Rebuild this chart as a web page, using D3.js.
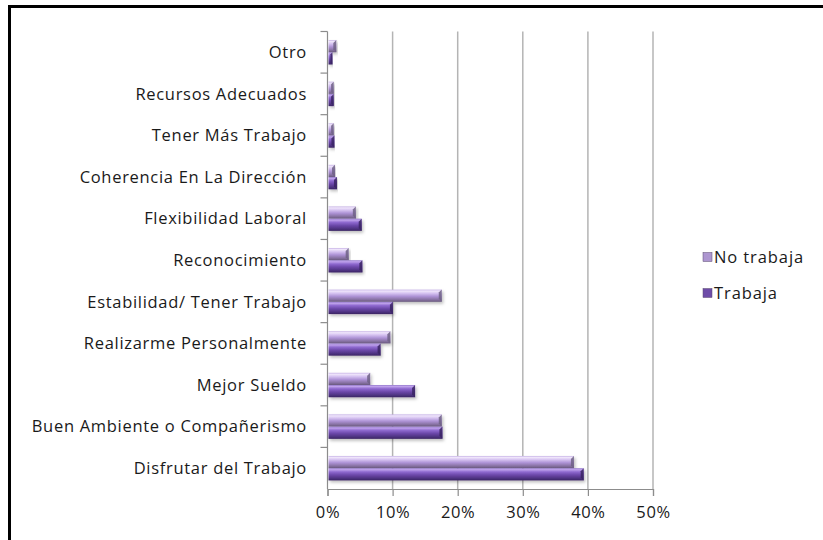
<!DOCTYPE html>
<html>
<head>
<meta charset="utf-8">
<script src="https://cdn.jsdelivr.net/npm/d3@7"></script>
<style>
  body { margin: 0; background: #fff; }
  svg text { font-family: "Open Sans", "Noto Sans", sans-serif; fill: #1a1a1a; }
</style>
</head>
<body>
<div id="chart"></div>
<script>
// categories, top to bottom as in the picture
const categories = [
    "Otro",
    "Recursos Adecuados",
    "Tener Más Trabajo",
    "Coherencia En La Dirección",
    "Flexibilidad Laboral",
    "Reconocimiento",
    "Estabilidad/ Tener Trabajo",
    "Realizarme Personalmente",
    "Mejor Sueldo",
    "Buen Ambiente o Compañerismo",
    "Disfrutar del Trabajo"
];
const series = ["No trabaja", "Trabaja"];
// shares
const noTrabaja = [0.012, 0.008, 0.008, 0.010, 0.042, 0.031, 0.174, 0.095, 0.064, 0.174, 0.377];
const trabaja   = [0.006, 0.008, 0.009, 0.013, 0.051, 0.052, 0.099, 0.080, 0.133, 0.175, 0.392];
const xTicks = [0, 0.1, 0.2, 0.3, 0.4, 0.5];

const W = 823, H = 540;
const svg = d3.select("#chart").append("svg")
    .attr("width", W)
    .attr("height", H);

// gradients for the bevelled bars
const defs = svg.append("defs");
function bevel(id, stops) {
    const g = defs.append("linearGradient")
        .attr("id", id)
        .attr("x1", 0).attr("y1", 0).attr("x2", 0).attr("y2", 1);
    stops.forEach(s => g.append("stop").attr("offset", s[0]).attr("stop-color", s[1]));
}
bevel("g-light", [[0, "#c7b3e6"], [0.12, "#efe5fb"], [0.3, "#d6c3f1"], [0.55, "#ae93d6"], [0.8, "#8a74a6"], [1, "#695a7e"]]);
bevel("g-dark",  [[0, "#9479cc"], [0.12, "#bfa2ec"], [0.3, "#8f6ad0"], [0.55, "#6c48aa"], [0.8, "#513585"], [1, "#3a2563"]]);
const shadow = defs.append("filter").attr("id", "shadow")
    .attr("x", "-5%").attr("y", "-30%").attr("width", "115%").attr("height", "180%");
shadow.append("feDropShadow")
    .attr("dx", 1.5).attr("dy", 2).attr("stdDeviation", 1.5)
    .attr("flood-color", "#000").attr("flood-opacity", 0.25);

const x = d3.scaleLinear().domain([0, 0.5]).range([327.5, 653]);
const y0 = d3.scaleBand().domain(categories).range([31.5, 489]);
const y1 = d3.scaleBand().domain(series).range([0, y0.bandwidth()]).paddingOuter(0.7);
const fills = {"No trabaja": "url(#g-light)", "Trabaja": "url(#g-dark)"};
const legendFills = {"No trabaja": "#ad96d0", "Trabaja": "#6e4ca8"};

// outer frame (only top and left show in the crop)
svg.append("line").attr("x1", 8).attr("x2", W).attr("y1", 6.5).attr("y2", 6.5)
    .attr("stroke", "#000").attr("stroke-width", 3);
svg.append("line").attr("x1", 9.5).attr("x2", 9.5).attr("y1", 5).attr("y2", H)
    .attr("stroke", "#000").attr("stroke-width", 3);

// vertical gridlines
svg.selectAll(".grid")
    .data(xTicks.slice(1))
    .enter()
    .append("line")
    .attr("class", "grid")
    .attr("x1", d => x(d)).attr("x2", d => x(d))
    .attr("y1", y0.range()[0]).attr("y2", y0.range()[1])
    .attr("stroke", "#b4b4b4")
    .attr("stroke-width", 1.5);

// x axis
const xAxis = svg.append("g")
    .attr("transform", `translate(0,${y0.range()[1]})`)
    .call(d3.axisBottom(x).tickValues(xTicks).tickFormat(d3.format(".0%")).tickSize(7).tickPadding(10));
xAxis.select(".domain").attr("stroke", "#8c8c8c").attr("stroke-width", 1.2);
xAxis.selectAll(".tick line").attr("stroke", "#8c8c8c").attr("stroke-width", 1.2);
xAxis.selectAll("text")
    .style("font-size", "16.5px")
    .style("letter-spacing", "0.6px")
    .style("fill", "#1a1a1a");

// y axis line and ticks between categories
svg.append("line")
    .attr("x1", x(0)).attr("x2", x(0))
    .attr("y1", y0.range()[0]).attr("y2", y0.range()[1])
    .attr("stroke", "#8c8c8c").attr("stroke-width", 1.2);
svg.selectAll(".ytick")
    .data(categories)
    .enter()
    .append("line")
    .attr("class", "ytick")
    .attr("x1", x(0) - 7).attr("x2", x(0))
    .attr("y1", d => y0(d)).attr("y2", d => y0(d))
    .attr("stroke", "#8c8c8c").attr("stroke-width", 1.2);

svg.selectAll(".ylabel")
    .data(categories)
    .enter()
    .append("text")
    .attr("class", "ylabel")
    .attr("x", 307)
    .attr("y", d => y0(d) + y0.bandwidth() / 2)
    .attr("dy", "0.35em")
    .attr("text-anchor", "end")
    .style("font-size", "16.5px")
    .style("letter-spacing", "0.7px")
    .text(d => d);

// bars
const rows = categories.map((c, i) => ({cat: c, vals: [
    {s: "No trabaja", v: noTrabaja[i]},
    {s: "Trabaja", v: trabaja[i]}
]}));

const groups = svg.selectAll(".cat")
    .data(rows)
    .enter()
    .append("g")
    .attr("class", "cat")
    .attr("transform", d => `translate(0,${y0(d.cat)})`);

groups.selectAll("rect")
    .data(d => d.vals)
    .enter()
    .append("rect")
    .attr("x", x(0) + 1)
    .attr("y", d => y1(d.s))
    .attr("width", d => x(d.v) - x(0))
    .attr("height", y1.bandwidth())
    .attr("fill", d => fills[d.s])
    .attr("filter", "url(#shadow)");

// darker bevel at the end of each bar
groups.selectAll(".cap")
    .data(d => d.vals)
    .enter()
    .append("path")
    .attr("class", "cap")
    .attr("d", d => {
        const x1 = x(0) + 1 + x(d.v) - x(0), t = y1(d.s), h = y1.bandwidth(), b = Math.min(3, (x(d.v) - x(0)) / 2);
        return `M${x1 - b},${t + b}L${x1},${t}L${x1},${t + h}L${x1 - b},${t + h - b}Z`;
    })
    .attr("fill", d => d.s === "Trabaja" ? "#3a2463" : "#6f6285")
    .attr("opacity", 0.85);

// legend
const legend = svg.selectAll(".legend")
    .data(series)
    .enter()
    .append("g")
    .attr("class", "legend")
    .attr("transform", (d, i) => `translate(703,${257 + i * 36})`);

legend.append("rect")
    .attr("x", 0).attr("y", -4.5)
    .attr("width", 9).attr("height", 9)
    .attr("fill", d => legendFills[d])
    .attr("stroke", "#5a4a70").attr("stroke-width", 0.5);

legend.append("text")
    .attr("x", 11)
    .attr("dy", "0.35em")
    .style("font-size", "16.5px")
    .style("letter-spacing", "0.9px")
    .text(d => d);
</script>
</body>
</html>
